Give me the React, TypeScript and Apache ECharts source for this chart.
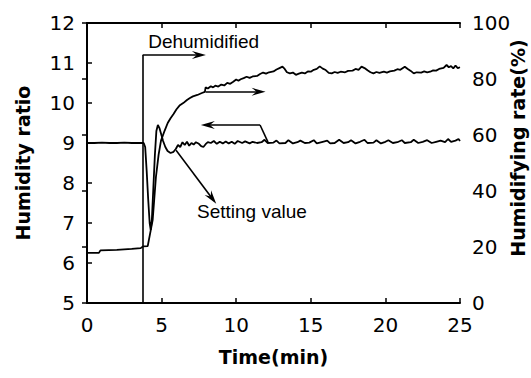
import React, { useEffect, useRef } from "react";
import * as echarts from "echarts";

// Humidity ratio (left axis)
const timeH = [
  0, 0.5, 1.0, 1.5, 2.0, 2.5, 3.0, 3.5, 3.8, 3.9, 4.0, 4.1, 4.2, 4.27, 4.35, 4.45, 4.55, 4.65, 4.75,
  4.85, 4.95, 5.1, 5.25, 5.4, 5.6, 5.8, 5.95, 6.1, 6.25, 6.4, 6.55, 6.7, 6.85, 7.0, 7.15, 7.3, 7.5,
  7.65, 7.8, 7.95, 8.1, 8.3, 8.5, 8.7, 8.9, 9.1, 9.3, 9.5, 9.7, 9.9, 10.1, 10.4, 10.6, 10.9, 11.1,
  11.4, 11.7, 11.9, 12.1, 12.5, 12.7, 12.9, 13.3, 13.5, 13.8, 14.1, 14.3, 14.6, 14.9, 15.2, 15.4,
  15.8, 16.1, 16.3, 16.6, 16.9, 17.2, 17.5, 17.7, 18.0, 18.3, 18.6, 18.8, 19.2, 19.4, 19.7, 20.0,
  20.2, 20.5, 20.8, 21.1, 21.3, 21.7, 21.9, 22.2, 22.5, 22.8, 23.1, 23.4, 23.7, 24.0, 24.2, 24.4,
  24.7, 24.9, 25.0,
];
const humidity = [
  9.0, 9.0, 9.01, 9.0, 9.0, 9.01, 9.0, 9.0, 9.0, 8.9, 8.3, 7.6, 7.0, 6.83, 7.1, 7.9, 8.7, 9.3, 9.45,
  9.38, 9.25, 9.05, 8.9, 8.8, 8.75, 8.78, 8.85, 8.95, 8.9, 9.02, 8.95, 9.03, 8.93, 9.0, 8.96, 9.02, 8.98,
  8.92, 8.9, 8.97, 9.02, 9.0, 9.05, 8.98, 9.03, 8.99, 9.04, 8.99, 9.03, 8.98, 9.05, 9.0, 9.04, 8.99, 9.03,
  9.0, 9.02, 9.08, 9.0, 9.01, 9.06, 8.99, 9.0, 9.07, 8.99, 9.02, 9.06, 9.0, 9.01, 9.07, 8.99,
  9.03, 9.06, 8.99, 9.0, 9.08, 9.0, 9.02, 9.07, 8.99, 9.03, 9.08, 9.0, 9.01, 9.07, 8.99, 9.03,
  9.07, 9.0, 9.02, 9.07, 9.0, 9.02, 9.08, 9.0, 9.03, 9.07, 9.0, 9.03, 9.06, 9.02, 9.1, 9.03,
  9.06, 9.1, 9.05,
];

// Humidifying rate % (right axis)
const timeR = [
  0, 0.8, 0.9, 2.0, 3.0, 3.6, 3.75, 4.07, 4.2, 4.4, 4.62, 4.8, 4.96, 5.2, 5.41, 5.6, 5.8, 6.0, 6.2,
  6.45, 6.7, 6.9, 7.1, 7.4, 7.7, 7.9, 7.95, 8.1, 8.3, 8.45, 8.6, 8.8, 9.0, 9.2, 9.4, 9.6, 9.8, 10.0,
  10.15, 10.3, 10.5, 10.7, 10.9, 11.1, 11.4, 11.6, 11.8, 12.0, 12.2, 12.5, 12.7, 12.9, 13.1, 13.25,
  13.4, 13.6, 13.8, 14.0, 14.2, 14.4, 14.6, 14.8, 15.0, 15.2, 15.4, 15.6, 15.8, 16.0, 16.2, 16.4,
  16.6, 16.8, 17.0, 17.3, 17.5, 17.8, 18.0, 18.2, 18.4, 18.6, 18.8, 19.0, 19.2, 19.4, 19.6, 19.9,
  20.1, 20.3, 20.6, 20.8, 21.0, 21.3, 21.5, 21.7, 21.9, 22.1, 22.4, 22.6, 22.8, 23.0, 23.2, 23.4,
  23.6, 23.9, 24.1, 24.25, 24.4, 24.55, 24.7, 24.85, 25.0,
];
const rate = [
  17.9, 17.9, 18.8, 19.0, 19.3, 19.6, 20.2, 20.3, 24, 29.6, 45, 53, 58, 61.5, 64.3, 66, 67.5, 69.2, 70.5,
  71.4, 72.5, 73.2, 73.8, 74.3, 75, 75.4, 77.0, 76.6, 77.4, 77.0, 77.6, 77.3, 78.0, 77.7, 78.6, 78.3, 79.0, 79.8,
  79.4, 79.9, 80.3, 80.8, 80.4, 80.9, 81.1, 81.8, 82.3, 81.9, 82.4, 82.7, 83.4, 83.9, 84.4, 83.6,
  82.4, 82.0, 82.3, 81.5, 81.9, 82.3, 82.0, 82.7, 82.6, 83.3, 83.6, 84.5, 83.7, 83.2, 82.2, 82.0,
  82.5, 82.2, 82.6, 82.4, 82.9, 83.0, 83.6, 83.3, 84.4, 83.9, 83.1, 82.4, 82.0, 82.5, 82.2, 82.6,
  82.3, 82.7, 83.0, 83.5, 83.3, 84.4, 83.6, 82.9, 82.0, 82.4, 82.3, 82.7, 82.4, 82.6, 83.1, 83.0,
  83.6, 84.0, 85.0, 84.2, 84.6, 83.8, 84.8, 83.9, 84.2,
];

const xTicks = [0, 5, 10, 15, 20, 25];
const leftTicks = [5, 6, 7, 8, 9, 10, 11, 12];
const rightTicks = [0, 20, 40, 60, 80, 100];

// Annotation lines in (time, humidity ratio) units
const plainSegments = [
  [[3.73, 11.2], [3.73, 5]],
  [[12.13, 9.02], [11.6, 9.45]],
];
const arrowSegments = [
  [[3.73, 11.2], [7.5, 11.2]],
  [[7.95, 10.28], [11.5, 10.28]],
  [[11.6, 9.45], [8.1, 9.45]],
  [[5.97, 8.82], [8.38, 7.62]],
];
const labels = [
  { text: "Dehumidified", at: [4.1, 11.55] },
  { text: "Setting value", at: [7.37, 7.28] },
];

const TICK_FONT = "DejaVu Sans, sans-serif";
const NOTE_FONT = "Liberation Sans, Arial, sans-serif";
const ARROW = "path://M5,0 L10,14 L5,9 L0,14 Z";

export default function App() {
  const ref = useRef<HTMLDivElement>(null);
  useEffect(() => {
    if (!ref.current) return;
    const chart = echarts.init(ref.current, null, { renderer: "svg" });
    const axisLine = { show: true, lineStyle: { color: "#000", width: 2 } };
    const tickStyle = { show: true, inside: true, length: 5, lineStyle: { color: "#000", width: 1.5 } };
    const labelStyle = { color: "#000", fontSize: 20, fontFamily: TICK_FONT };
    const nameStyle = { color: "#000", fontSize: 19, fontWeight: "bold" as const, fontFamily: TICK_FONT };
    chart.setOption({
      animation: false,
      backgroundColor: "#fff",
      grid: { left: 87, right: 71, top: 23, bottom: 75, containLabel: false, outerBoundsMode: "none" },
      xAxis: [
        {
          type: "value",
          min: xTicks[0],
          max: xTicks[xTicks.length - 1],
          interval: 5,
          name: "Time(min)",
          nameLocation: "middle",
          nameGap: 44,
          nameTextStyle: nameStyle,
          axisLine,
          axisTick: tickStyle,
          axisLabel: { ...labelStyle, margin: 12 },
          splitLine: { show: false },
        },
        {
          type: "value",
          position: "top",
          min: xTicks[0],
          max: xTicks[xTicks.length - 1],
          interval: 5,
          axisLine,
          axisTick: tickStyle,
          axisLabel: { show: false },
          splitLine: { show: false },
        },
      ],
      yAxis: [
        {
          type: "value",
          min: leftTicks[0],
          max: leftTicks[leftTicks.length - 1],
          interval: 1,
          name: "Humidity ratio",
          nameLocation: "middle",
          nameGap: 55,
          nameTextStyle: nameStyle,
          axisLine,
          axisTick: tickStyle,
          axisLabel: { ...labelStyle, margin: 12 },
          splitLine: { show: false },
        },
        {
          type: "value",
          position: "right",
          min: rightTicks[0],
          max: rightTicks[rightTicks.length - 1],
          interval: 20,
          name: "Humidifying rate(%)",
          nameLocation: "middle",
          nameGap: 48,
          nameMoveOverlap: false,
          nameTextStyle: { ...nameStyle, padding: [0, 0, 0, 30] },
          axisLine,
          axisTick: tickStyle,
          axisLabel: { ...labelStyle, margin: 12 },
          splitLine: { show: false },
        },
      ],
      series: [
        {
          type: "line",
          name: "Humidity ratio",
          xAxisIndex: 0,
          yAxisIndex: 0,
          showSymbol: false,
          symbol: "none",
          data: timeH.map((t, i) => [t, humidity[i]]),
          lineStyle: { color: "#000", width: 1.8 },
          markLine: {
            silent: true,
            symbol: ["none", "none"],
            lineStyle: { color: "#000", width: 1.6, type: "solid" },
            label: { show: false },
            data: [
              ...plainSegments.map(([a, b]) => [
                { coord: a, symbol: "none" },
                { coord: b, symbol: "none" },
              ]),
              ...arrowSegments.map(([a, b]) => [
                { coord: a, symbol: "none" },
                { coord: b, symbol: ARROW, symbolSize: [8, 14] },
              ]),
            ],
          },
          markPoint: {
            silent: true,
            symbol: "circle",
            symbolSize: 0,
            itemStyle: { color: "transparent" },
            label: {
              show: true,
              position: "right",
              distance: 0,
              color: "#000",
              fontSize: 19,
              fontFamily: NOTE_FONT,
            },
            data: labels.map((l) => ({ coord: l.at, label: { formatter: l.text } })),
          },
        },
        {
          type: "line",
          name: "Humidifying rate",
          xAxisIndex: 0,
          yAxisIndex: 1,
          showSymbol: false,
          symbol: "none",
          data: timeR.map((t, i) => [t, rate[i]]),
          lineStyle: { color: "#000", width: 1.8 },
        },
      ],
    });
    return () => chart.dispose();
  }, []);
  return <div ref={ref} style={{ width: 531, height: 378, position: "absolute", left: 0, top: 0 }} />;
}
